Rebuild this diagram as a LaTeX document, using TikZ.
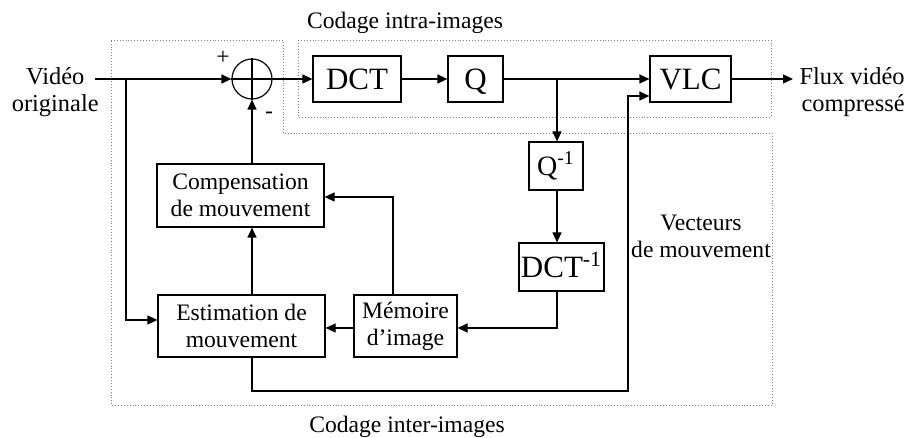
\documentclass[tikz,border=0pt]{standalone}
\usepackage{fontspec}
\setmainfont{Liberation Serif}
\usetikzlibrary{arrows.meta}
\begin{document}
\begin{tikzpicture}[x=0.5pt,y=-0.5pt,
  blk/.style={draw,line width=0.6pt,inner sep=0pt,align=center,font=\fontsize{11.8}{13.5}\selectfont},
  bigblk/.style={draw,line width=0.6pt,inner sep=0pt,text height=10.2pt,text depth=0pt,font=\fontsize{15.5}{17}\selectfont},
  lbl/.style={inner sep=0pt,font=\fontsize{11.8}{13.5}\selectfont},
  iolbl/.style={inner sep=0pt,font=\fontsize{12.2}{13.8}\selectfont},
  wire/.style={line width=0.6pt},
  arr/.style={line width=0.6pt,-{Triangle[length=5pt,width=4.5pt]}},
  zone/.style={densely dotted,line width=0.45pt,gray}]
\useasboundingbox (0,0) rectangle (912,438);
% zones
\draw[zone] (111,40) -- (283,40) -- (283,133) -- (772,133) -- (772,405) -- (111,405) -- cycle;
\draw[zone] (298,40) rectangle (771,117);
\node[lbl] (tintra) at (405,23) {Codage intra-images};
\node[lbl] (tinter) at (407,427) {Codage inter-images};
% blocks
\node[bigblk,minimum width=44pt,minimum height=23pt] (dct) at (357,79) {DCT};
\node[bigblk,minimum width=27.5pt,minimum height=23pt] (q) at (475.5,79) {Q};
\node[bigblk,minimum width=40.5pt,minimum height=23pt] (vlc) at (690.5,79) {VLC};
\node[bigblk,minimum width=27pt,minimum height=24pt,text height=9.3pt,font=\fontsize{14}{16}\selectfont] (qinv) at (556,166) {Q\textsuperscript{-1}};
\node[bigblk,minimum width=42.5pt,minimum height=24pt] (dctinv) at (561.5,267) {DCT\textsuperscript{-1}};
\node[blk,minimum width=51.5pt,minimum height=31pt] (mem) at (405.5,326) {Mémoire\\d’image};
\node[blk,minimum width=83.5pt,minimum height=31pt] (est) at (241.5,326) {Estimation de\\mouvement};
\node[blk,minimum width=83.5pt,minimum height=31.5pt] (comp) at (240.5,195.5) {Compensation\\de mouvement};
\node[draw,circle,line width=0.6pt,minimum size=20pt,inner sep=0pt] (sum) at (252,79) {};
\draw[wire] (sum.north) -- (sum.south) (sum.west) -- (sum.east);
\node[lbl] (plus) at (223,58) {+};
\node[lbl] (minus) at (269,115) {-};
% inputs / outputs
\node[iolbl,align=center,anchor=east] (in) at (99,92) {Vidéo\\originale};
\node[iolbl,align=right,anchor=east] (out) at (905,92) {Flux vidéo\\compressé};
\node[lbl,align=center] (vect) at (701,236) {Vecteurs\\de mouvement};
\coordinate (instart) at (95,79);
\coordinate (br) at (126,79);
\coordinate (outend) at (793,79);
\coordinate (qbr) at (557,79);
% connectors
\draw[arr] (instart) -- (sum.west);
\draw[arr] (br) |- (est.west |- 0,320);
\draw[arr] (sum.east) -- (dct.west);
\draw[arr] (dct) -- (q);
\draw[arr] (q) -- (vlc);
\draw[arr] (vlc.east) -- (outend);
\draw[arr] (qbr) -- (qbr |- qinv.north);
\draw[arr] (qbr |- qinv.south) -- (qbr |- dctinv.north);
\draw[arr] (qbr |- dctinv.south) |- (mem.east |- 0,328);
\draw[arr] (mem.west |- 0,328) -- (est.east |- 0,328);
\draw[arr] (mem.north -| 393,0) |- (comp.east |- 0,197);
\draw[arr] (est.north -| 252,0) -- (comp.south -| 252,0);
\draw[arr] (comp.north -| 252,0) -- (sum.south);
\draw[arr] (est.south -| 252,0) -- (252,391) -- (628,391) -- (628,96) -- (vlc.west |- 0,96);
\end{tikzpicture}
\end{document}
